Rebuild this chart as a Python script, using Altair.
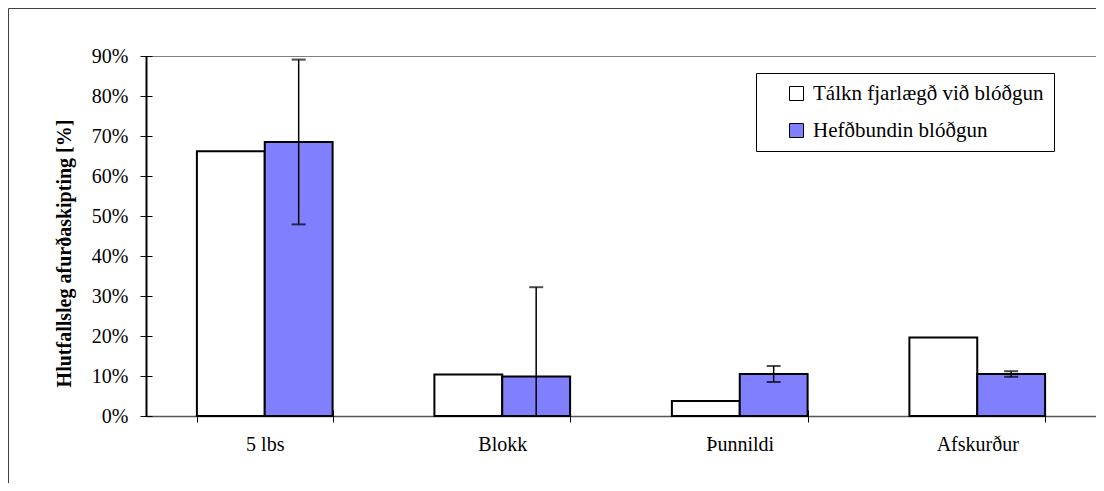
import altair as alt
import pandas as pd

categories = ["5 lbs", "Blokk", "Þunnildi", "Afskurður"]
series = ["Tálkn fjarlægð við blóðgun", "Hefðbundin blóðgun"]
talkn_values = [66.2, 10.4, 3.75, 19.6]
hefd_values = [68.5, 9.85, 10.5, 10.5]
hefd_err = [20.6, 22.35, 2.0, 0.7]
y_ticks = [0, 0.1, 0.2, 0.3, 0.4, 0.5, 0.6, 0.7, 0.8, 0.9]
colors = ["#FFFFFF", "#8080FF"]

FONT = "Liberation Serif"

rows = []
for i, c in enumerate(categories):
    rows.append({"cat": c, "series": series[0], "value": talkn_values[i] / 100})
    rows.append({"cat": c, "series": series[1], "value": hefd_values[i] / 100})
df = pd.DataFrame(rows)

err_rows = []
for i, c in enumerate(categories):
    v = hefd_values[i] / 100
    e = hefd_err[i] / 100
    err_rows.append({"cat": c, "series": series[1], "lo": v - e, "hi": v + e})
err_df = pd.DataFrame(err_rows)

x_scale = alt.Scale(domain=categories, paddingInner=0.4286, paddingOuter=0.2143)
xo_scale = alt.Scale(domain=series, paddingInner=0, paddingOuter=0)
y_scale = alt.Scale(domain=[0, 0.9], nice=False, zero=True)

x_main = alt.X(
    "cat:N", sort=categories, scale=x_scale,
    axis=alt.Axis(title=None, labelAngle=0, tickBand="extent", tickSize=6,
                  labelPadding=12, labelFont=FONT, labelFontSize=20, labelColor="black",
                  domainColor="#555555", domainWidth=1.5, tickColor="black", tickWidth=1),
)
y_main = alt.Y(
    "value:Q", scale=y_scale,
    axis=alt.Axis(values=y_ticks, format=".0%", grid=False, tickSize=6, labelPadding=12,
                  labelFont=FONT, labelFontSize=20, labelColor="black",
                  domainColor="black", domainWidth=2, tickColor="black", tickWidth=1,
                  title="Hlutfallsleg afurðaskipting [%]", titleFont=FONT,
                  titleFontSize=20, titleFontWeight="bold", titleColor="black",
                  titlePadding=17, titleY=197),
)
xo = alt.XOffset("series:N", sort=series, scale=xo_scale)

frame = alt.Chart(pd.DataFrame({"a": [0]})).mark_rect(
    filled=False, color="#404040", strokeWidth=1
).encode(
    x=alt.value(-137.5), x2=alt.value(980), y=alt.value(-47.5), y2=alt.value(450)
)

bars = alt.Chart(df).mark_bar(stroke="black", strokeWidth=2).encode(
    x=x_main,
    xOffset=xo,
    y=y_main,
    fill=alt.Fill(
        "series:N", sort=series, scale=alt.Scale(domain=series, range=colors),
        legend=alt.Legend(
            title=None, orient="none", legendX=610, legendY=17, direction="vertical",
            strokeColor="black", fillColor="white", padding=10,
            symbolType="square", symbolSize=196, symbolStrokeColor="black",
            symbolStrokeWidth=1, symbolOffset=20, labelFont=FONT, labelFontSize=21,
            labelColor="black", rowPadding=15, labelOffset=6, labelLimit=500,
        ),
    ),
)

inner = alt.Chart(df).mark_point(opacity=0).encode(
    x=alt.X("cat:N", sort=categories, scale=x_scale,
            axis=alt.Axis(orient="bottom", offset=-6, labels=False, domain=False,
                          tickBand="extent", tickSize=6, title=None, tickColor="black")),
    y=alt.Y("value:Q", scale=y_scale,
            axis=alt.Axis(orient="left", offset=-6, labels=False, domain=False,
                          values=y_ticks, tickSize=6, title=None, grid=False,
                          tickColor="black")),
)

rules = alt.Chart(err_df).mark_rule(color="black", strokeWidth=1.5, clip=True).encode(
    x=alt.X("cat:N", sort=categories, scale=x_scale, axis=None),
    xOffset=xo,
    y=alt.Y("lo:Q", scale=y_scale, axis=None),
    y2="hi:Q",
)
caps_hi = alt.Chart(err_df).mark_tick(
    orient="horizontal", size=14, thickness=2, color="black", clip=True
).encode(
    x=alt.X("cat:N", sort=categories, scale=x_scale, axis=None),
    xOffset=xo,
    y=alt.Y("hi:Q", scale=y_scale, axis=None),
)
caps_lo = alt.Chart(err_df).mark_tick(
    orient="horizontal", size=14, thickness=2, color="black", clip=True
).encode(
    x=alt.X("cat:N", sort=categories, scale=x_scale, axis=None),
    xOffset=xo,
    y=alt.Y("lo:Q", scale=y_scale, axis=None),
)

chart = alt.layer(frame, bars, inner, rules, caps_hi, caps_lo).resolve_axis(
    x="independent", y="independent"
).properties(
    width=950, height=360,
    autosize=alt.AutoSizeParams(type="none"),
    padding={"left": 138, "top": 48, "right": 0, "bottom": 67},
    background="white",
).configure_view(stroke="#808080", strokeWidth=1)

chart.save("out.html", embed_options={"renderer": "svg", "actions": False})
